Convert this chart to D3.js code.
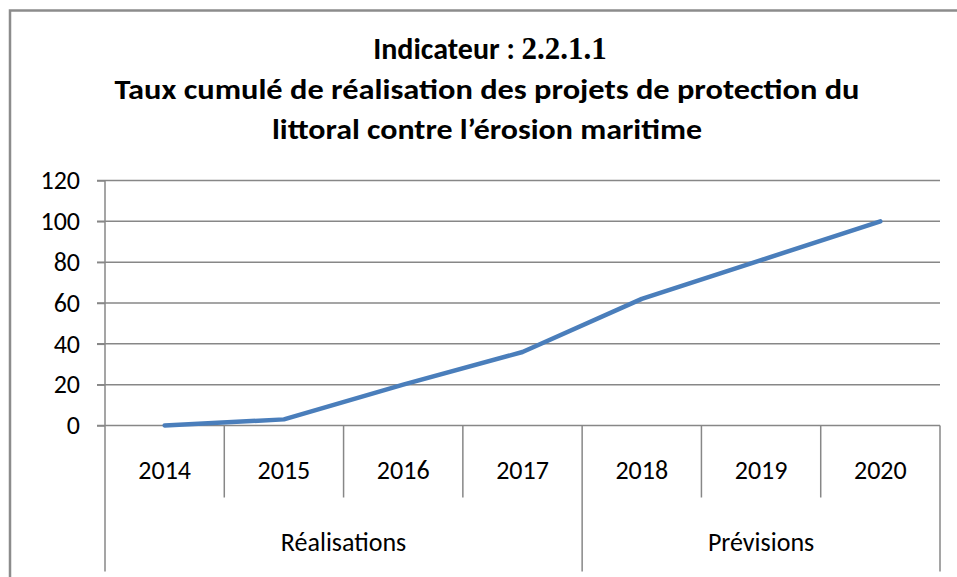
<!DOCTYPE html>
<html>
<head>
<meta charset="utf-8">
<script src="https://cdn.jsdelivr.net/npm/d3@7"></script>
<style>
  html, body { margin: 0; padding: 0; background: #fff; }
  svg { display: block; }
  text { font-family: Carlito, "Liberation Sans", Arial, sans-serif; fill: #000; }
  tspan.serif { font-family: "Liberation Serif", "DejaVu Serif", "Times New Roman", serif; }
</style>
</head>
<body>
<svg id="chart" width="957" height="577"></svg>
<script>
// data
const years = ["2014", "2015", "2016", "2017", "2018", "2019", "2020"];
const values = [0, 3, 20, 36, 62, 81, 100];
const groups = ["Réalisations", "Prévisions"];
const groupYears = [["2014", "2015", "2016", "2017"], ["2018", "2019", "2020"]];
const yTicks = [0, 20, 40, 60, 80, 100, 120];
const titleLines = ["Taux cumulé de réalisation des projets de protection du", "littoral contre l’érosion maritime"];

const svg = d3.select("#chart");
const margin = { left: 105, right: 17, top: 180.5, bottom: 151.5 };
const width = 957 - margin.left - margin.right;
const height = 577 - margin.top - margin.bottom;
const gridColor = "#878787";

// outer chart border (clipped by the window on right/bottom)
svg.append("rect")
  .attr("x", 10).attr("y", 10.5)
  .attr("width", 1000).attr("height", 1000)
  .attr("fill", "none")
  .attr("stroke", "#8c8c8c")
  .attr("stroke-width", 2.5);

// title
const title = svg.append("g").attr("class", "title");
const t1 = title.append("text")
  .attr("x", 490).attr("y", 59)
  .attr("text-anchor", "middle")
  .style("font-weight", "bold")
  .style("font-size", "30px");
t1.append("tspan").text("Indicateur : ");
t1.append("tspan")
  .attr("class", "serif")
  .style("font-size", "31px")
  .text("2.2.1.1");

const titleWidths = [745, 430];
title.selectAll(".tl")
  .data(titleLines)
  .enter()
  .append("text")
  .attr("class", "tl")
  .attr("x", 487)
  .attr("y", function(d, i) { return 99 + i * 40; })
  .attr("text-anchor", "middle")
  .style("font-weight", "bold")
  .style("font-size", "29px")
  .attr("textLength", function(d, i) { return titleWidths[i]; })
  .attr("lengthAdjust", "spacingAndGlyphs")
  .text(function(d) { return d; });

const g = svg.append("g")
  .attr("transform", "translate(" + margin.left + "," + margin.top + ")");

const x = d3.scaleBand().domain(years).range([0, width]).padding(0);
const y = d3.scaleLinear().domain([0, 120]).range([height, 0]);

// gridlines
g.append("g")
  .selectAll("line")
  .data(yTicks)
  .enter()
  .append("line")
  .attr("x1", -8).attr("x2", width)
  .attr("y1", function(d) { return y(d); })
  .attr("y2", function(d) { return y(d); })
  .attr("stroke", gridColor)
  .attr("stroke-width", 1.5);

// y axis
const yAxis = d3.axisLeft(y).tickValues(yTicks).tickSize(8).tickPadding(17);
const gy = g.append("g").call(yAxis);
gy.select(".domain").remove();
gy.selectAll(".tick line").attr("stroke", gridColor).attr("stroke-width", 1.5);
gy.selectAll(".tick text")
  .style("font-size", "26px")
  .attr("font-family", null)
  .attr("fill", "#000");

// vertical axis line, extended into the category area
g.append("line")
  .attr("x1", 0).attr("x2", 0)
  .attr("y1", 0).attr("y2", height + 146)
  .attr("stroke", gridColor).attr("stroke-width", 1.5);

// year separators
const yearBounds = years.slice(1).map(function(d) { return x(d); })
  .filter(function(b) {
    return !groupYears.slice(1).some(function(gy) { return x(gy[0]) === b; });
  });
g.selectAll(".ysep")
  .data(yearBounds)
  .enter()
  .append("line")
  .attr("class", "ysep")
  .attr("x1", function(d) { return d; }).attr("x2", function(d) { return d; })
  .attr("y1", height).attr("y2", height + 72)
  .attr("stroke", gridColor).attr("stroke-width", 1.5);

// group separators
const groupBounds = groupYears.map(function(gyr) { return x(gyr[gyr.length - 1]) + x.bandwidth(); });
g.selectAll(".gsep")
  .data(groupBounds)
  .enter()
  .append("line")
  .attr("class", "gsep")
  .attr("x1", function(d) { return d; }).attr("x2", function(d) { return d; })
  .attr("y1", height).attr("y2", height + 146)
  .attr("stroke", gridColor).attr("stroke-width", 1.5);

// year labels
g.selectAll(".ylab")
  .data(years)
  .enter()
  .append("text")
  .attr("class", "ylab")
  .attr("x", function(d) { return x(d) + x.bandwidth() / 2; })
  .attr("y", height + 53)
  .attr("text-anchor", "middle")
  .style("font-size", "26px")
  .text(function(d) { return d; });

// group labels
g.selectAll(".glab")
  .data(groups)
  .enter()
  .append("text")
  .attr("class", "glab")
  .attr("x", function(d, i) {
    const gyr = groupYears[i];
    return (x(gyr[0]) + x(gyr[gyr.length - 1]) + x.bandwidth()) / 2;
  })
  .attr("y", height + 125)
  .attr("text-anchor", "middle")
  .style("font-size", "26px")
  .text(function(d) { return d; });

// line
const line = d3.line()
  .x(function(d, i) { return x(years[i]) + x.bandwidth() / 2; })
  .y(function(d) { return y(d); });

g.append("path")
  .datum(values)
  .attr("d", line)
  .attr("fill", "none")
  .attr("stroke", "#4a7ebb")
  .attr("stroke-width", 4.5)
  .attr("stroke-linejoin", "round")
  .attr("stroke-linecap", "round");
</script>
</body>
</html>
